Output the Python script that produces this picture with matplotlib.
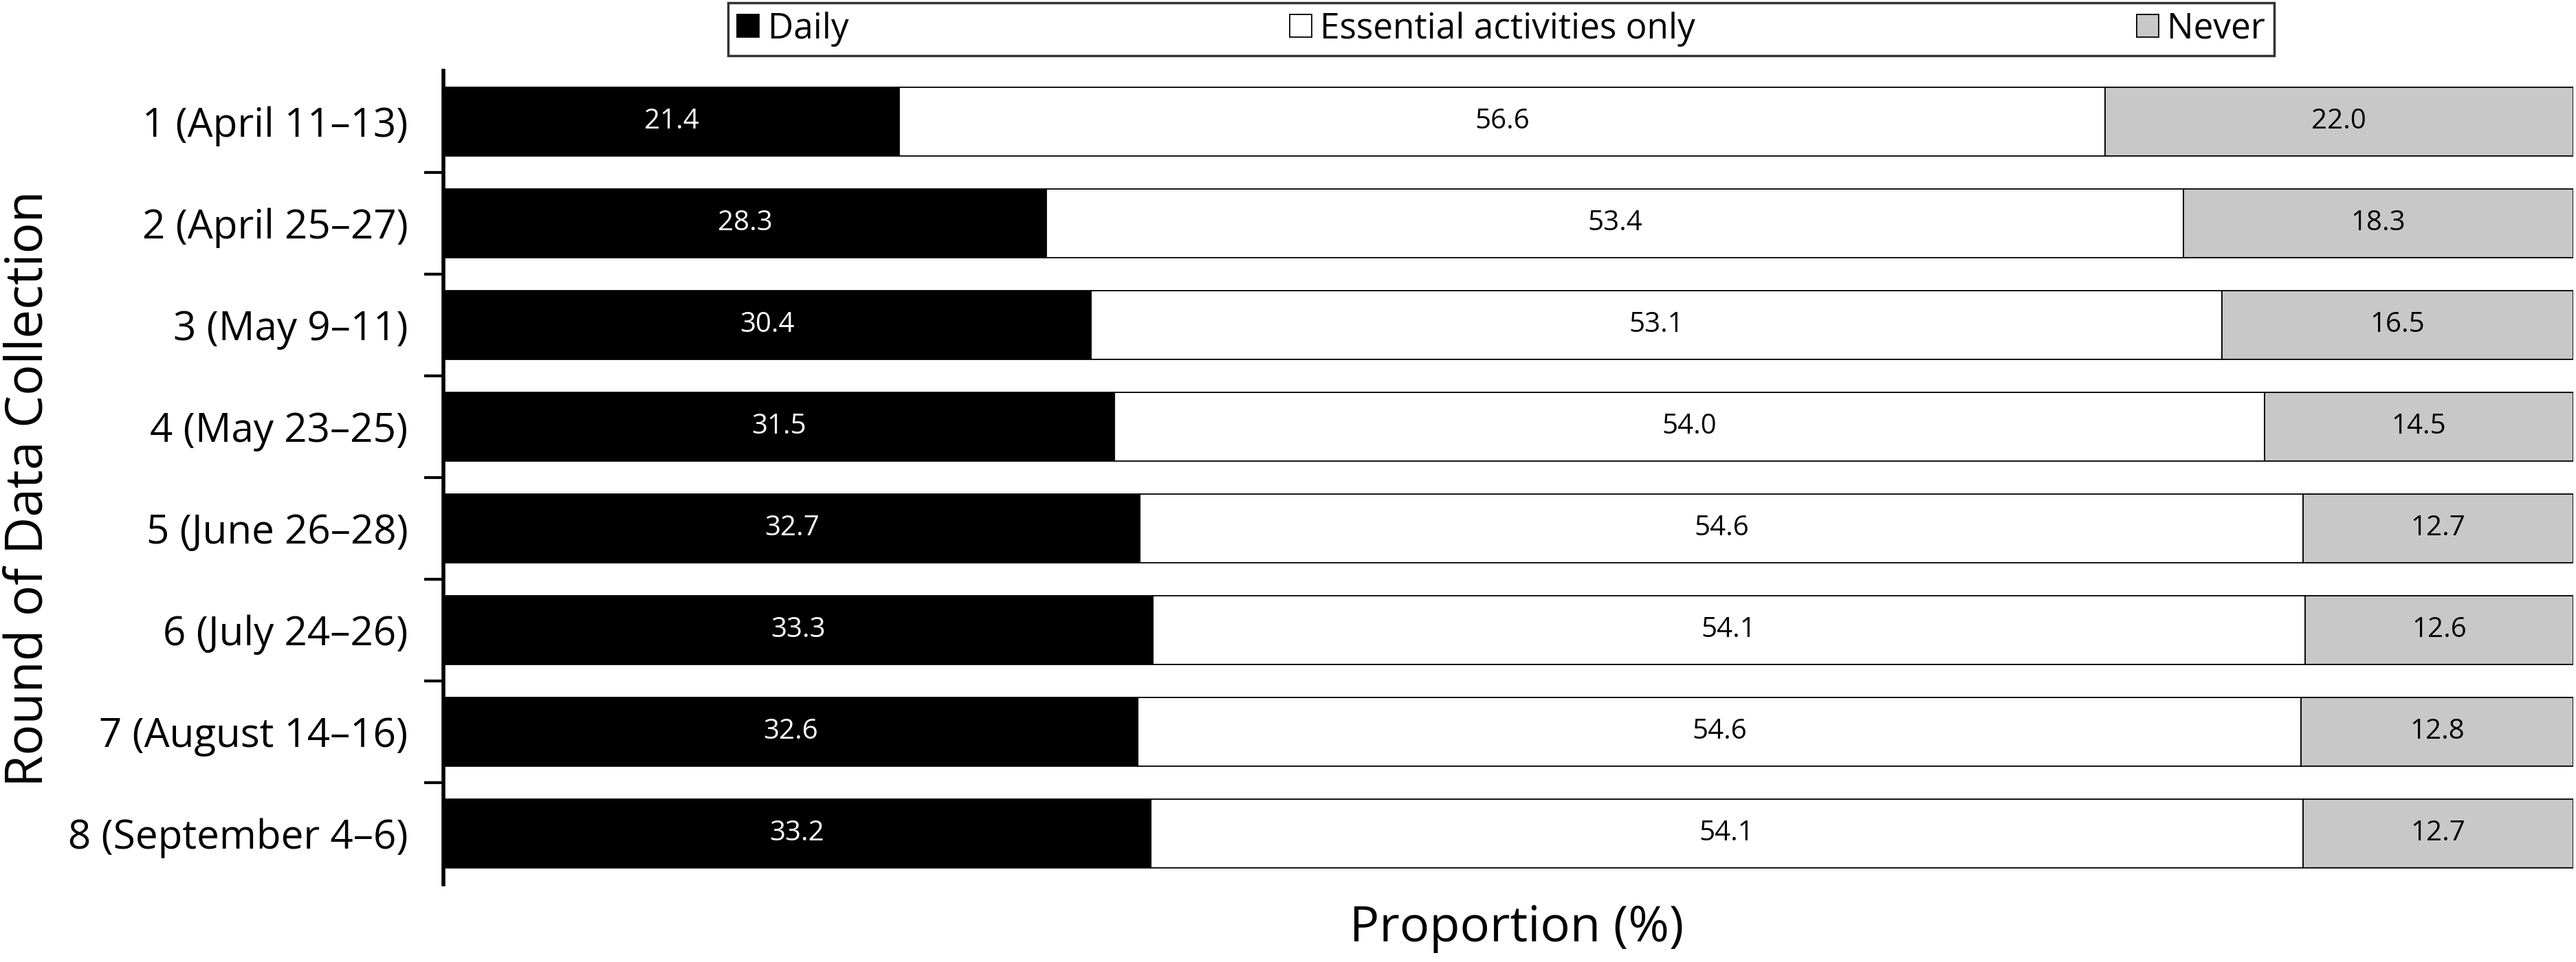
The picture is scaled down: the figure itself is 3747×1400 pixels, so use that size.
import numpy as np
import matplotlib
matplotlib.use("Agg")
import matplotlib.pyplot as plt
from matplotlib.ticker import FixedLocator

plt.rcParams['font.family'] = ['Open Sans', 'DejaVu Sans']

# data
rounds = ["1 (April 11\u201313)", "2 (April 25\u201327)", "3 (May 9\u201311)",
          "4 (May 23\u201325)", "5 (June 26\u201328)", "6 (July 24\u201326)",
          "7 (August 14\u201316)", "8 (September 4\u20136)"]
daily = [21.4, 28.3, 30.4, 31.5, 32.7, 33.3, 32.6, 33.2]
essential = [56.6, 53.4, 53.1, 54.0, 54.6, 54.1, 54.6, 54.1]
never = [22.0, 18.3, 16.5, 14.5, 12.7, 12.6, 12.8, 12.7]
series_names = ["Daily", "Essential activities only", "Never"]
colors = ["black", "white", "#c8c8c8"]
text_colors = ["white", "black", "black"]

fig = plt.figure(figsize=(37.48, 14), dpi=100)
ax = fig.add_axes([0.1721, 0.0807, 0.8266, 0.8457])

y = np.arange(len(rounds))
left = np.zeros(len(rounds))
for vals, name, col, tcol in zip([daily, essential, never], series_names, colors, text_colors):
    vals = np.array(vals)
    ax.barh(y, vals, left=left, height=0.67, color=col, edgecolor="black",
            linewidth=1.3, label=name)
    # segment labels
    for yi, l, v in zip(y, left, vals):
        ax.text(l + v / 2, yi, f"{v:.1f}", ha="center", va="center",
                color=tcol, fontsize=29)
    left = left + vals

ax.set_xlim(0, 100)
ax.set_ylim(len(rounds) - 0.5, -0.5)

ax.set_yticks(y)
ax.set_yticklabels(rounds, fontsize=42)
ax.tick_params(axis="y", which="major", length=0, pad=37)
ax.yaxis.set_minor_locator(FixedLocator(np.arange(0.5, len(rounds) - 0.5, 1)))
ax.tick_params(axis="y", which="minor", length=20, width=3)
ax.set_xticks([])

for s in ["top", "right", "bottom"]:
    ax.spines[s].set_visible(False)
ax.spines["left"].set_linewidth(4)

ax.set_ylabel("Round of Data Collection", fontsize=54)
ax.yaxis.label.set_va("center")
ax.yaxis.set_label_coords(-0.1946, 0.486)
ax.set_xlabel("Proportion (%)", fontsize=52)
ax.xaxis.label.set_va("center")
ax.xaxis.set_label_coords(0.504, -0.054)

leg = fig.legend(loc="upper left", bbox_to_anchor=(1059 / 3748, 1 - 4 / 1400, 2249 / 3748, 0),
                 mode="expand", ncol=3, fontsize=37, frameon=True, fancybox=False,
                 handlelength=0.62, handleheight=0.62, handletextpad=0.25,
                 borderpad=0.25, borderaxespad=0, columnspacing=0.5)
leg.get_frame().set_edgecolor("black")
leg.get_frame().set_linewidth(2.5)

fig.savefig("out.png", dpi=100)
